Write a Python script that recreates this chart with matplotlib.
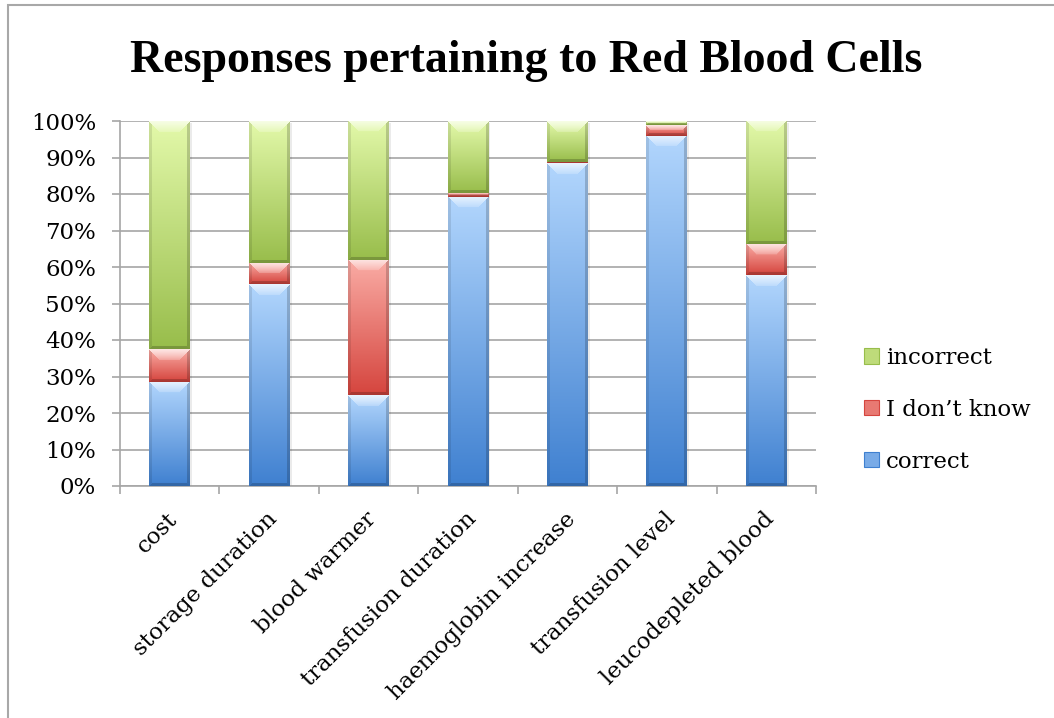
import numpy as np
import matplotlib
matplotlib.use("Agg")
import matplotlib.pyplot as plt
from matplotlib.patches import Rectangle, Patch
from matplotlib.colors import to_rgb
from matplotlib.transforms import ScaledTranslation

# ---- data (percent of responses) ----
categories = ["cost", "storage duration", "blood warmer", "transfusion duration",
              "haemoglobin increase", "transfusion level", "leucodepleted blood"]
correct = [28.6, 55.3, 24.8, 79.3, 88.4, 96.0, 57.8]
dont_know = [9.0, 5.9, 37.0, 1.1, 0.5, 3.0, 8.5]
incorrect = [62.4, 38.8, 38.2, 19.6, 11.1, 1.0, 33.7]
series_names = ["correct", "I don\u2019t know", "incorrect"]
yticks = list(range(0, 101, 10))
ytick_labels = [f"{v}%" for v in yticks]
title = "Responses pertaining to Red Blood Cells"

# ---- style ----
SERIF = "DejaVu Serif"
TITLE_FONT = "Liberation Serif"
FS = 16.5
W, H, DPI = 1054, 718, 100
GRID = "#a6a6a6"
# (light top, dark bottom) gradient per series
palette = {
    "correct": ("#b2d6fd", "#3f80d0"),
    "I don\u2019t know": ("#faaca5", "#d5453e"),
    "incorrect": ("#e3f9aa", "#98bd4b"),
}

fig = plt.figure(figsize=(W / DPI, H / DPI), dpi=DPI)
fig.patch.set_facecolor("white")
ax = fig.add_axes([120 / W, 1 - 486 / H, 696 / W, 365 / H])
XLIM, YLIM = (-0.5, len(categories) - 0.5), (0, 100)
ax.set_xlim(*XLIM)
ax.set_ylim(*YLIM)


def bevel_image(c_top, c_bot, h, w):
    """Vertical gradient with a bevel: bright top trapezoid,
    slightly darker sides and bottom."""
    h = max(int(round(h)), 1)
    w = max(int(round(w)), 1)
    top = np.array(to_rgb(c_top))
    bot = np.array(to_rgb(c_bot))
    t = np.linspace(0, 1, h)[:, None, None]
    img = top * (1 - t) + bot * t
    img = np.broadcast_to(img, (h, w, 3)).copy()

    dy_t = (np.arange(h) + 0.5)[:, None]
    dy_b = h - dy_t
    dx_l = (np.arange(w) + 0.5)[None, :]
    dx_r = w - dx_l
    bt = min(11.0, h / 2.0)
    bs = min(3.0, h / 2.0)

    topreg = (dy_t < bt) & (dy_t <= dx_l) & (dy_t <= dx_r)
    hl = 1 - (1 - top) * 0.25
    f = np.clip(1 - dy_t / max(bt, 1e-6), 0, 1)
    a = (0.25 + 0.7 * f)[..., None] * np.ones((1, w, 1))
    img = np.where(topreg[..., None], img * (1 - a) + hl * a, img)

    left = (dx_l < bs) & ~topreg & (dx_l <= dy_b)
    right = (dx_r < bs) & ~topreg & (dx_r <= dy_b)
    botreg = (dy_b < bs) & (dy_b < dx_l) & (dy_b < dx_r)
    img = np.where(left[..., None], img * 0.9, img)
    img = np.where(right[..., None], img * 0.82, img)
    img = np.where(botreg[..., None], img * 0.8, img)
    return np.clip(img, 0, 1)


x = np.arange(len(categories))
width = 0.41
stack = [(series_names[0], correct), (series_names[1], dont_know), (series_names[2], incorrect)]

# soft shadow behind each full column
shadow_tr = ax.transData + ScaledTranslation(2 / DPI, -2 / DPI, fig.dpi_scale_trans)
totals = np.sum([correct, dont_know, incorrect], axis=0)
for xi, tot in zip(x, totals):
    ax.add_patch(Rectangle((xi - width / 2, 0), width, tot, transform=shadow_tr,
                           facecolor=(0, 0, 0, 0.08), edgecolor="none", zorder=2.5))

bottoms = np.zeros(len(categories))
for name, vals in stack:
    c_top, c_bot = palette[name]
    bars = ax.bar(x, vals, width=width, bottom=bottoms, color=c_bot,
                  linewidth=0, zorder=3, label=name)
    for p in bars:
        x0, y0 = p.get_x(), p.get_y()
        x1, y1 = x0 + p.get_width(), y0 + p.get_height()
        (px0, py0), (px1, py1) = ax.transData.transform([(x0, y0), (x1, y1)])
        img = bevel_image(c_top, c_bot, abs(py1 - py0), abs(px1 - px0))
        ax.imshow(img, extent=(x0, x1, y0, y1), aspect="auto",
                  interpolation="bilinear", origin="upper", zorder=3.1)
    bottoms = bottoms + np.asarray(vals)

ax.set_xlim(*XLIM)
ax.set_ylim(*YLIM)

# ---- axes styling ----
for side in ("top", "right"):
    ax.spines[side].set_visible(False)
for side in ("left", "bottom"):
    ax.spines[side].set_color(GRID)
    ax.spines[side].set_linewidth(1.2)
ax.set_axisbelow(True)
ax.yaxis.grid(True, color=GRID, linewidth=1.2)

ax.set_yticks(yticks, ytick_labels)
ax.tick_params(axis="y", direction="out", length=5.8, width=1.2, color=GRID,
               pad=11.5, labelsize=FS)
for lbl in ax.get_yticklabels():
    lbl.set_fontfamily(SERIF)

ax.set_xticks(x, categories, rotation=45, ha="right", va="top",
              rotation_mode="anchor")
ax.set_xticks(np.arange(-0.5, len(categories), 1.0), minor=True)
ax.tick_params(axis="x", which="major", length=0, pad=16, labelsize=FS)
ax.tick_params(axis="x", which="minor", direction="out", length=5.8, width=1.2,
               color=GRID)
shift = ScaledTranslation(-3 / DPI, 0, fig.dpi_scale_trans)
for lbl in ax.get_xticklabels():
    lbl.set_fontfamily(SERIF)
    lbl.set_transform(lbl.get_transform() + shift)

# ---- legend (top entry is the top of the stack) ----
def mid(c1, c2):
    return tuple((np.array(to_rgb(c1)) + np.array(to_rgb(c2))) / 2)

handles = [Patch(facecolor=mid(*palette[n]), edgecolor=palette[n][1], linewidth=0.8)
           for n in reversed(series_names)]
fig.legend(handles, list(reversed(series_names)), loc="upper left",
           bbox_to_anchor=(864 / W, 1 - 347 / H), frameon=False,
           prop={"family": SERIF, "size": FS}, handlelength=0.66,
           handleheight=0.66, handletextpad=0.3, labelspacing=1.3,
           borderpad=0, borderaxespad=0)

# ---- title ----
fig.text(526 / W, 1 - 61 / H, title, ha="center", va="center",
         fontsize=33, fontweight="bold", family=TITLE_FONT)

# chart-area border (left and top edges fall inside the canvas)
fig.add_artist(Rectangle((8 / W, -0.2), 1.2, 1.2 - 5 / H,
                         transform=fig.transFigure, facecolor="none",
                         edgecolor="#a8a8a8", linewidth=1.5))

fig.savefig("out.png", dpi=DPI, facecolor="white")
